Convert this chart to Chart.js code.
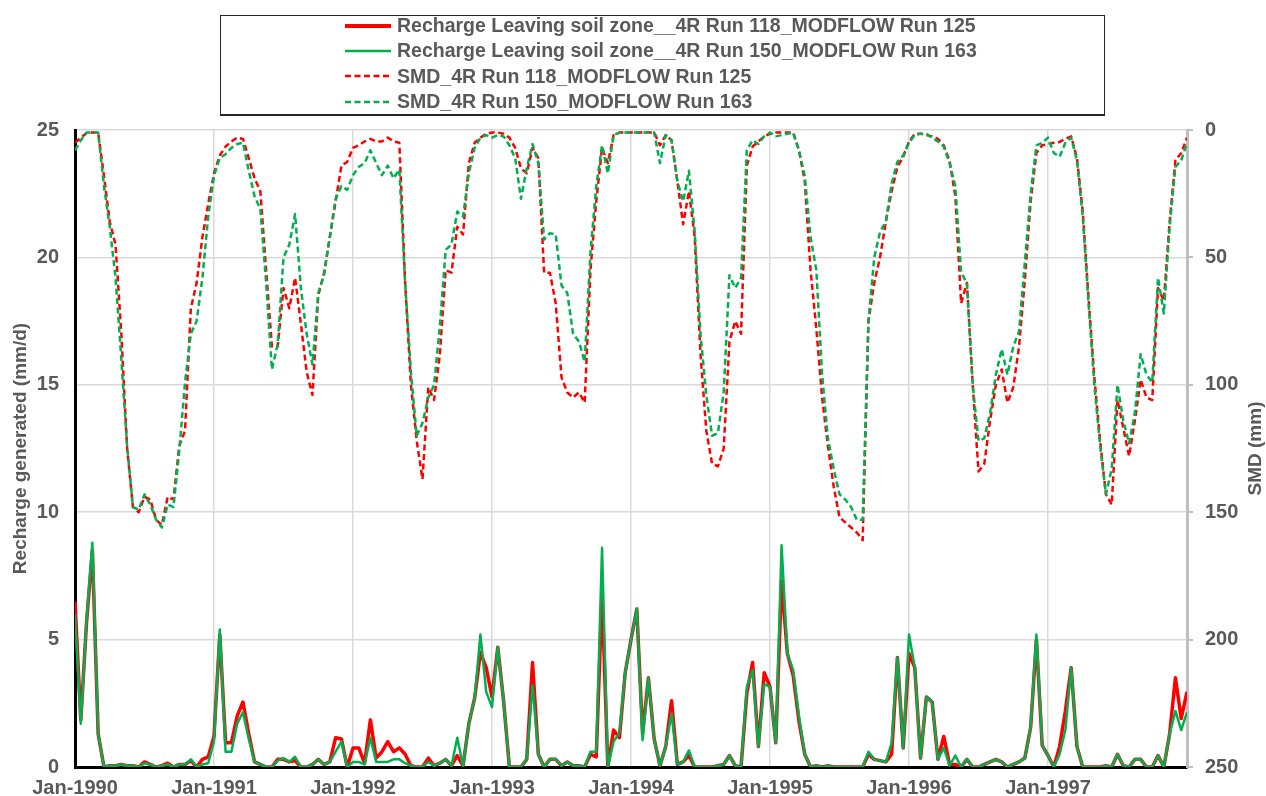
<!DOCTYPE html>
<html>
<head>
<meta charset="utf-8">
<title>Recharge and SMD, 1990-1997</title>
<script src="https://cdn.jsdelivr.net/npm/chart.js@4.4.1/dist/chart.umd.min.js"></script>
<style>
  html, body { margin: 0; padding: 0; background: #ffffff; }
  #wrap { position: relative; width: 1266px; height: 796px; }
  #chart { position: absolute; left: 0; top: 0; }
  #legendBox {
    position: absolute; left: 220px; top: 15px; width: 885px; height: 101px;
    box-sizing: border-box; border: 1px solid #262626; border-bottom-width: 2px; background: #fff;
  }
  #legendItems { position: absolute; left: 345px; top: 14px; }
  .legRow {
    height: 25.3px; line-height: 25.3px; white-space: nowrap;
    font: bold 19.5px 'Liberation Sans', Arial, sans-serif; color: #595959;
  }
  .legRow svg { vertical-align: middle; margin-right: 6px; position: relative; top: -1px; }
</style>
</head>
<body>
<div id="wrap">
  <canvas id="chart" width="1266" height="796"></canvas>
  <div id="legendBox"></div>
  <div id="legendItems"></div>
</div>
<script>
// Half-monthly time steps, counted in months from Jan-1990 (193 steps to Jan-1998)
const periods = Array.from({ length: 193 }, (_, i) => i / 2);
const startYear = 1990;

// Recharge leaving the soil zone (mm/d), 4R Run 118 / MODFLOW Run 125
const recharge118 = [
  6.5, 1.85, 5.7, 8.5, 1.3, 0, 0.05, 0.05, 0.1, 0.05, 0.05, 0, 0.2, 0.1, 0, 0.05, 0.15, 0, 0.1, 0.1, 0.25, 0, 0.3, 0.4,
  1.2, 5.2, 0.95, 0.95, 2.0, 2.55, 1.3, 0.2, 0.1, 0, 0, 0.3, 0.3, 0.2, 0.25, 0, 0, 0.1, 0.3, 0.1, 0.2, 1.15, 1.1, 0,
  0.75, 0.75, 0.15, 1.85, 0.35, 0.6, 1.0, 0.6, 0.75, 0.5, 0.05, 0, 0, 0.35, 0.05, 0.15, 0.3, 0.05, 0.45, 0.05, 1.7, 2.7, 4.5, 3.9,
  2.75, 4.7, 2.6, 0, 0, 0, 0.3, 4.1, 0.5, 0, 0.3, 0.3, 0.05, 0.2, 0.05, 0.05, 0, 0.5, 0.4, 6.8, 0, 1.45, 1.15, 3.7,
  5.0, 6.2, 1.3, 3.5, 1.1, 0.05, 0.8, 2.6, 0.1, 0.2, 0.45, 0, 0, 0, 0, 0.05, 0.1, 0.45, 0.05, 0, 2.9, 4.1, 0.8, 3.7,
  3.15, 0.95, 7.3, 4.45, 3.6, 1.8, 0.5, 0, 0.05, 0, 0.05, 0, 0, 0, 0, 0, 0, 0.5, 0.3, 0.25, 0.2, 0.5, 4.3, 0.75,
  4.45, 3.9, 0.35, 2.75, 2.55, 0.3, 1.2, 0.1, 0.1, 0, 0.3, 0, 0, 0.1, 0.2, 0.3, 0.2, 0, 0.1, 0.2, 0.35, 1.55, 5.0, 0.85,
  0.45, 0, 0.8, 2.2, 3.9, 0.8, 0, 0, 0, 0, 0.05, 0, 0.5, 0.05, 0, 0.3, 0.3, 0, 0, 0.45, 0, 1.3, 3.5, 1.9,
  2.95
];

// Recharge leaving the soil zone (mm/d), 4R Run 150 / MODFLOW Run 163
const recharge150 = [
  6.0, 1.7, 5.8, 8.8, 1.3, 0, 0.05, 0.05, 0.1, 0.05, 0.05, 0, 0.15, 0.1, 0, 0.05, 0.1, 0, 0.1, 0.1, 0.3, 0, 0.1, 0.15,
  1.0, 5.4, 0.6, 0.6, 1.7, 2.15, 1.1, 0.2, 0.1, 0, 0, 0.25, 0.35, 0.2, 0.4, 0, 0, 0.1, 0.3, 0.1, 0.2, 0.6, 1.0, 0,
  0.2, 0.2, 0.1, 1.15, 0.2, 0.2, 0.2, 0.3, 0.3, 0.15, 0.05, 0, 0, 0.2, 0.05, 0.15, 0.3, 0.05, 1.15, 0.05, 1.7, 2.7, 5.2, 2.95,
  2.35, 4.7, 2.6, 0, 0, 0, 0.3, 3.2, 0.5, 0, 0.3, 0.3, 0.05, 0.2, 0.05, 0.05, 0, 0.6, 0.6, 8.6, 0, 1.0, 1.35, 3.7,
  5.0, 6.2, 1.05, 3.5, 1.1, 0.05, 0.8, 2.1, 0.1, 0.2, 0.65, 0, 0, 0, 0, 0.05, 0.1, 0.45, 0.05, 0, 3.15, 3.8, 0.8, 3.25,
  3.15, 0.95, 8.7, 4.45, 3.8, 2.0, 0.5, 0, 0.05, 0, 0.05, 0, 0, 0, 0, 0, 0, 0.6, 0.3, 0.25, 0.2, 0.95, 4.3, 0.75,
  5.2, 3.9, 0.35, 2.75, 2.55, 0.3, 0.75, 0.05, 0.45, 0, 0.3, 0, 0, 0.1, 0.2, 0.3, 0.2, 0, 0.1, 0.2, 0.35, 1.55, 5.2, 0.85,
  0.45, 0, 0.5, 1.45, 3.9, 0.8, 0, 0, 0, 0, 0.05, 0, 0.5, 0.05, 0, 0.3, 0.3, 0, 0, 0.45, 0, 1.3, 2.2, 1.45,
  2.15
];

// Soil moisture deficit (mm), 4R Run 118 / MODFLOW Run 125
const smd118 = [
  5, 3, 1.3, 1, 1, 18, 36, 45, 80, 125, 148, 150, 144, 145, 153, 155, 144, 145, 124, 118, 70, 60, 42, 29,
  17, 10, 6.5, 4.5, 3, 3.5, 11, 19, 24, 55, 85, 85, 62, 70, 58, 76, 95, 104, 65, 56, 42, 28, 14, 12.5,
  7, 6, 4.5, 3.5, 4.5, 4.5, 3, 4.5, 5, 60, 100, 122, 137, 101, 106, 88, 55, 56, 38, 41, 13, 5, 3, 1.5,
  1, 1, 1.5, 3, 7, 15, 17, 7, 11, 56, 56, 68, 97, 103, 105, 103, 107, 55, 28, 7, 13, 2, 1, 1,
  1, 1, 1, 1, 1, 6, 2, 4, 20, 37, 24, 42, 88, 118, 131, 132, 125, 83, 75, 80, 14, 6.5, 4.5, 2.5,
  1.5, 1, 1, 1, 1, 8, 20, 55, 78, 105, 124, 140, 152, 154, 156, 158, 161, 75, 60, 50, 36, 24, 14.5, 10.5,
  4.5, 1.5, 1.5, 2, 2.5, 3.5, 6, 12, 26, 68, 60, 100, 134, 131, 114, 100, 94, 107, 101, 85, 59, 28, 9, 6,
  5.5, 5, 4.7, 3.5, 2.5, 11, 32, 66, 97, 122, 143, 147, 106, 117, 128, 114, 98, 105, 106, 62, 67, 36, 12, 9,
  3
];

// Soil moisture deficit (mm), 4R Run 150 / MODFLOW Run 163
const smd150 = [
  8, 4, 1, 1, 1, 22, 38, 58, 90, 124, 148, 149, 143, 147, 153, 156, 147, 148, 126, 99, 80, 75, 58, 34,
  18, 11, 9.5, 7, 5.5, 5, 16, 26, 31, 60, 94, 84, 50, 45, 33, 62, 80, 92, 64, 57, 42, 27, 22, 23.5,
  17.7, 14.5, 13, 8, 13, 17.7, 14, 19, 15.5, 60, 95, 120, 115, 105, 100, 77, 47, 45, 32, 34, 17, 7, 3, 2,
  3, 2, 2.5, 6, 11, 27, 15, 5.5, 13, 43, 40.5, 41, 61, 64, 80, 83, 91, 48, 22, 6, 17, 2, 1, 1,
  1, 1, 1, 1, 1, 13, 2, 4, 20, 28, 16, 40, 80, 104, 120, 119, 103, 57, 62, 58, 8, 4, 5.5, 2.5,
  1, 2.5, 2, 1.5, 1, 8, 18, 42, 55, 96, 121, 133, 143, 145, 148, 153, 153, 75, 50, 40, 36, 21, 12.5, 10,
  5, 2, 1.5, 1.5, 3, 4.5, 6.5, 13, 22, 56, 60, 100, 122, 121, 111, 96, 86, 96, 85, 79, 52, 25, 6, 5,
  3, 9, 10.5, 5, 3, 12, 34, 68, 100, 124, 143, 133, 100, 114, 123, 111, 88, 96, 99, 58, 72, 38, 14.5, 12,
  5
];

const seriesLabels = [
  'Recharge Leaving soil zone__4R Run 118_MODFLOW Run 125',
  'Recharge Leaving soil zone__4R Run 150_MODFLOW Run 163',
  'SMD_4R Run 118_MODFLOW Run 125',
  'SMD_4R Run 150_MODFLOW Run 163'
];

const RED = '#ff0000';
const GREEN = '#00b050';
const TEXT = '#595959';
const FAMILY = "'Liberation Sans', Arial, sans-serif";

const toPoints = values => values.map((v, i) => ({ x: periods[i], y: v }));

// Right-hand axis title, written bottom-to-top
const rightTitle = {
  id: 'rightTitle',
  afterDraw(chart) {
    const s = chart.scales.ySmd;
    const ctx = chart.ctx;
    ctx.save();
    ctx.translate(s.right - 10, (s.top + s.bottom) / 2);
    ctx.rotate(-Math.PI / 2);
    ctx.font = 'bold 19px ' + FAMILY;
    ctx.fillStyle = TEXT;
    ctx.textAlign = 'center';
    ctx.textBaseline = 'middle';
    ctx.fillText('SMD (mm)', 0, 0);
    ctx.restore();
  }
};

// Legend in a framed box, one series per row, built from the datasets
const htmlLegend = {
  id: 'htmlLegend',
  afterUpdate(chart) {
    const box = document.getElementById('legendItems');
    box.innerHTML = '';
    chart.data.datasets.forEach(ds => {
      const row = document.createElement('div');
      row.className = 'legRow';
      const dash = ds.borderDash && ds.borderDash.length ? ` stroke-dasharray="${ds.borderDash.join(' ')}"` : '';
      const w = ds.legendLineWidth || ds.borderWidth;
      row.innerHTML = `<svg width="46" height="10"><line x1="0" y1="5" x2="46" y2="5" stroke="${ds.borderColor}" stroke-width="${w}"${dash}/></svg>`;
      row.appendChild(document.createTextNode(ds.label));
      box.appendChild(row);
    });
  }
};

new Chart(document.getElementById('chart'), {
  type: 'line',
  data: {
    datasets: [
      { label: seriesLabels[0], data: toPoints(recharge118), yAxisID: 'yRecharge', borderColor: RED, borderWidth: 3.5, legendLineWidth: 4, order: 2 },
      { label: seriesLabels[1], data: toPoints(recharge150), yAxisID: 'yRecharge', borderColor: GREEN, borderWidth: 2.5, order: 1 },
      { label: seriesLabels[2], data: toPoints(smd118), yAxisID: 'ySmd', borderColor: RED, borderWidth: 2.5, borderDash: [6, 3.5], order: 4 },
      { label: seriesLabels[3], data: toPoints(smd150), yAxisID: 'ySmd', borderColor: GREEN, borderWidth: 2.5, borderDash: [6, 3.5], order: 3 }
    ]
  },
  options: {
    responsive: false,
    animation: false,
    devicePixelRatio: 1,
    layout: { padding: { top: 130, left: 0, right: 0, bottom: 0 } },
    elements: {
      point: { radius: 0 },
      line: { tension: 0, fill: false, borderJoinStyle: 'round' }
    },
    plugins: {
      legend: { display: false },
      tooltip: { enabled: false }
    },
    scales: {
      x: {
        type: 'linear',
        min: 0,
        max: 96,
        afterFit: s => { s.height = 29; },
        ticks: {
          stepSize: 12,
          autoSkip: false,
          maxRotation: 0,
          padding: 9,
          color: TEXT,
          font: { family: FAMILY, size: 20, weight: 'bold' },
          callback: v => (v >= 96 ? null : 'Jan-' + (startYear + v / 12))
        },
        grid: { color: '#d9d9d9', lineWidth: 1.5, drawTicks: false },
        border: { color: '#000000', width: 3 }
      },
      yRecharge: {
        type: 'linear',
        position: 'left',
        min: 0,
        max: 25,
        afterFit: s => { s.width = 75; },
        ticks: {
          stepSize: 5,
          padding: 16,
          color: TEXT,
          font: { family: FAMILY, size: 20, weight: 'bold' }
        },
        grid: { color: '#d9d9d9', lineWidth: 1.5, drawTicks: false },
        border: { color: '#000000', width: 3 },
        title: {
          display: true,
          text: 'Recharge generated (mm/d)',
          color: TEXT,
          padding: { top: 9, bottom: 0 },
          font: { family: FAMILY, size: 19, weight: 'bold' }
        }
      },
      ySmd: {
        type: 'linear',
        position: 'right',
        reverse: true,
        min: 0,
        max: 250,
        afterFit: s => { s.width = 79; },
        ticks: {
          stepSize: 50,
          padding: 12,
          color: TEXT,
          font: { family: FAMILY, size: 20, weight: 'bold' }
        },
        grid: { drawOnChartArea: false, drawTicks: true, tickLength: 6, color: '#bfbfbf', lineWidth: 2 },
        border: { color: '#bfbfbf', width: 3 }
      }
    }
  },
  plugins: [rightTitle, htmlLegend]
});
</script>
</body>
</html>
